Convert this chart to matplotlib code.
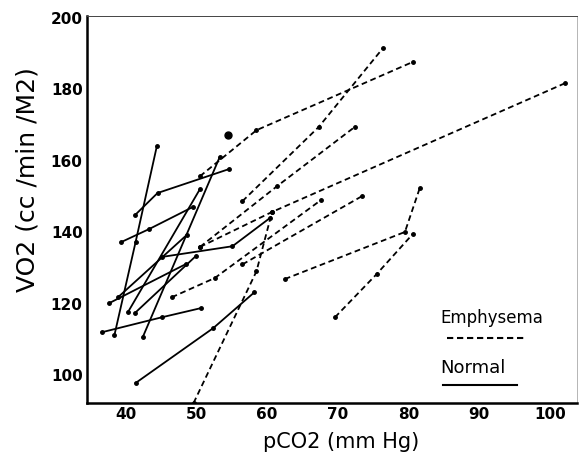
import matplotlib
matplotlib.use('Agg')
import matplotlib.pyplot as plt

# Normal subjects (solid lines): pCO2 (mm Hg), VO2 (cc/min/M2)
normal_x = [
    [38.4, 41.4, 44.4],
    [39.4, 43.3, 49.5],
    [41.3, 44.5, 54.6],
    [42.4, 53.3],
    [37.7, 48.5],
    [38.9, 48.6],
    [40.3, 50.5],
    [41.3, 50.0],
    [45.1, 55.1, 60.4],
    [36.6, 45.1, 50.7],
    [41.4, 52.4, 58.2],
]
normal_y = [
    [111.2, 137.3, 164.1],
    [137.3, 140.9, 147.1],
    [144.8, 151.0, 157.7],
    [110.6, 161.1],
    [120.2, 131.1],
    [121.8, 139.2],
    [117.6, 152.1],
    [117.4, 133.5],
    [133.1, 136.1, 144.0],
    [112.0, 116.2, 118.8],
    [97.8, 113.2, 123.2],
]

# Emphysema patients (dashed lines)
emph_x = [
    [56.5, 67.3, 76.4],
    [50.5, 58.5, 80.6],
    [50.5, 60.7, 102.2],
    [49.6, 58.5, 60.7],
    [50.5, 61.4, 72.4],
    [46.5, 52.6, 67.6],
    [56.5, 73.4],
    [62.5, 79.5, 81.6],
    [69.6, 75.5, 80.6],
]
emph_y = [
    [148.7, 169.5, 191.6],
    [155.7, 168.6, 187.7],
    [135.9, 145.7, 181.8],
    [92.2, 129.1, 145.7],
    [135.9, 152.9, 169.5],
    [121.8, 127.2, 149.0],
    [131.0, 150.1],
    [126.9, 140.1, 152.4],
    [116.2, 128.3, 139.5],
]

lone_x = [54.4]
lone_y = [167.2]

xticks = [40, 50, 60, 70, 80, 90, 100]
yticks = [100, 120, 140, 160, 180, 200]

fig = plt.figure(figsize=(5.79, 4.63), dpi=100)
ax = fig.add_axes([0.150, 0.1296, 0.846, 0.836])

for xs, ys in zip(normal_x, normal_y):
    ax.plot(xs, ys, '-', color='k', lw=1.3, marker='o', ms=2.5)
for xs, ys in zip(emph_x, emph_y):
    ax.plot(xs, ys, color='k', lw=1.3, ls=(0, (3.2, 2)), marker='o', ms=2.5)
ax.plot(lone_x, lone_y, 'o', color='k', ms=5)

ax.set_xlim(34.5, 103.8)
ax.set_ylim(92.2, 200.6)
ax.set_xticks(xticks)
ax.set_yticks(yticks)
ax.tick_params(length=0, labelsize=11, pad=3)
for lab in ax.get_xticklabels() + ax.get_yticklabels():
    lab.set_fontweight('bold')

ax.spines['left'].set_linewidth(1.8)
ax.spines['bottom'].set_linewidth(1.8)
ax.spines['top'].set_linewidth(0.7)
ax.spines['right'].set_linewidth(0.6)
ax.spines['top'].set_color('#444444')
ax.spines['right'].set_color('#aaaaaa')

ax.set_xlabel('pCO2 (mm Hg)', fontsize=15)
ax.set_ylabel('VO2 (cc /min /M2)', fontsize=18)
ax.xaxis.set_label_coords(0.52, -0.075)
ax.yaxis.set_label_coords(-0.096, 0.576)

# hand-drawn style key
ax.text(0.722, 0.22, 'Emphysema', transform=ax.transAxes, fontsize=12, va='center')
ax.plot([0.735, 0.894], [0.168, 0.168], transform=ax.transAxes, color='k', lw=1.5, ls=(0, (3, 1.8)))
ax.text(0.722, 0.09, 'Normal', transform=ax.transAxes, fontsize=13, va='center')
ax.plot([0.727, 0.878], [0.0465, 0.0465], transform=ax.transAxes, color='k', lw=1.5)

fig.savefig('out.png', dpi=100)
